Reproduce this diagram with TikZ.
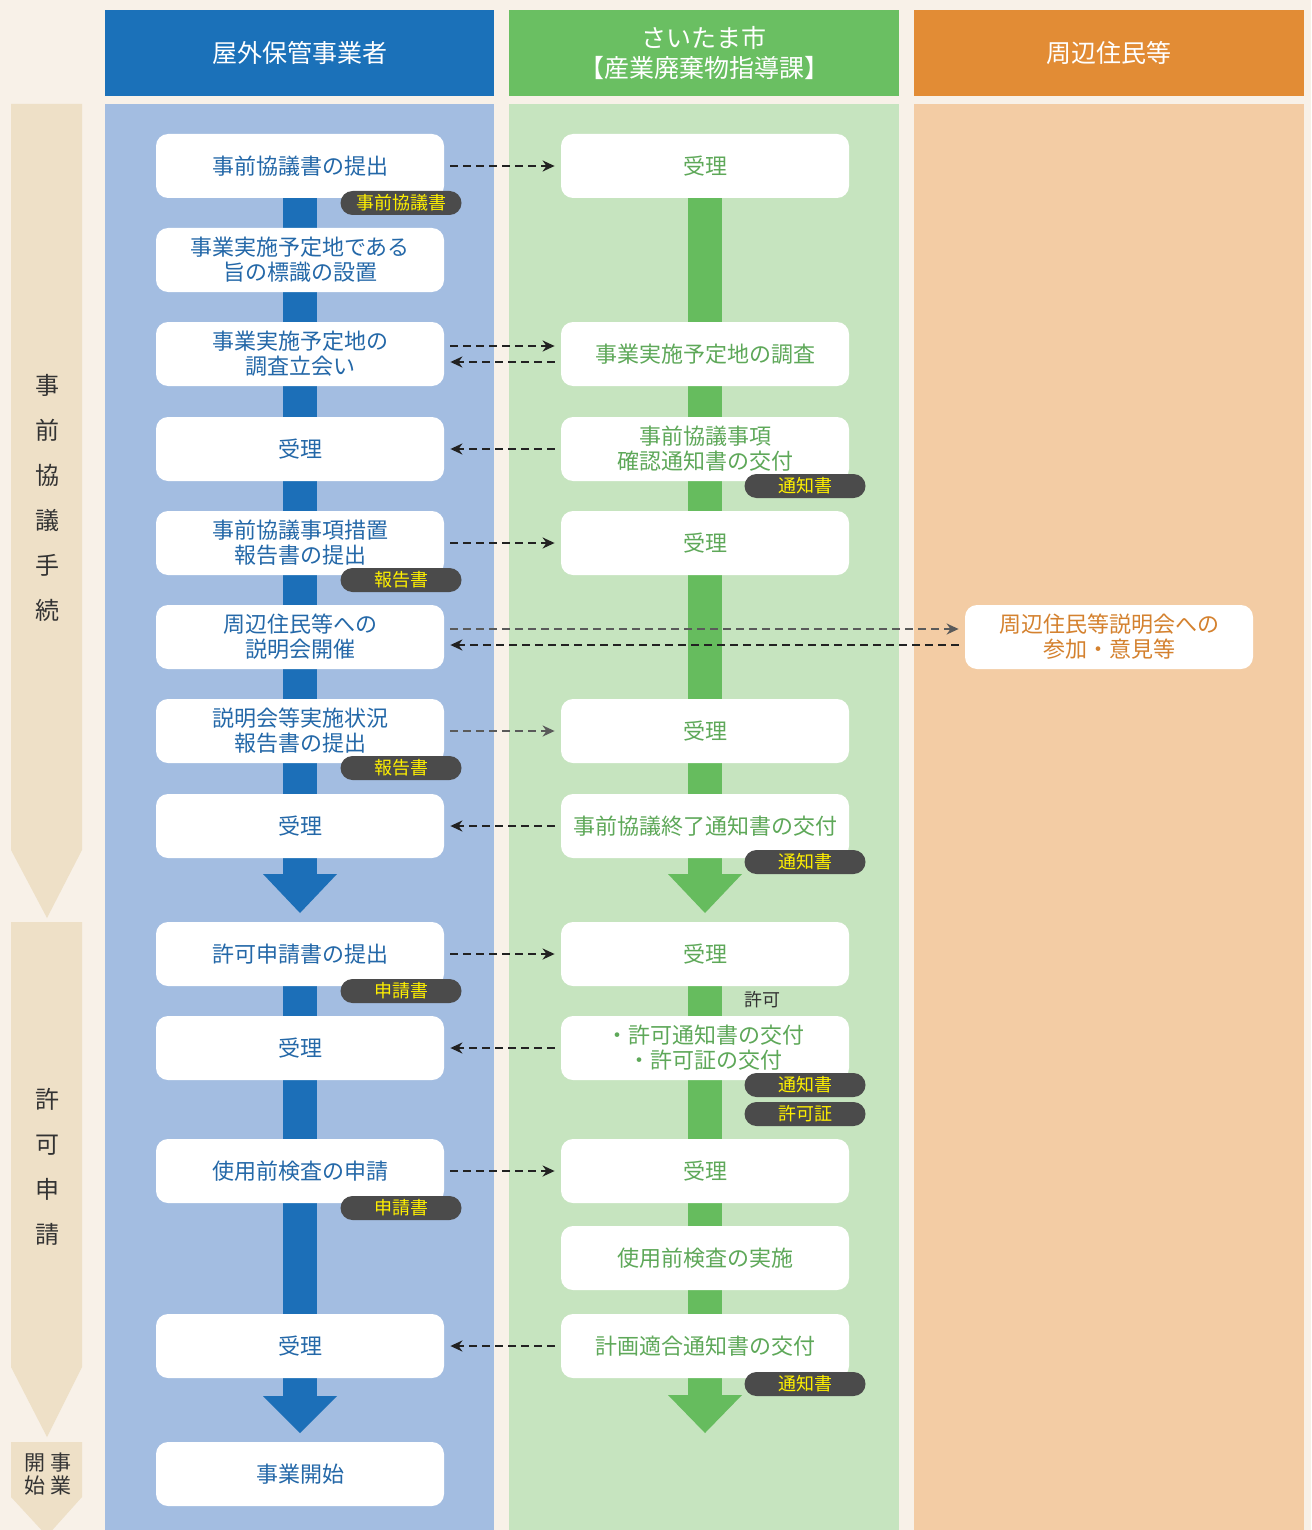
\documentclass[tikz,border=0pt]{standalone}
\usepackage{fontspec}
\setmainfont{Noto Sans CJK JP}
\usetikzlibrary{arrows.meta}
\definecolor{bgc}{HTML}{F8F1E8}
\definecolor{hblue}{HTML}{1B71B9}
\definecolor{lblue}{HTML}{A3BDE1}
\definecolor{hgreen}{HTML}{6ABF62}
\definecolor{lgreen}{HTML}{C6E4BF}
\definecolor{horange}{HTML}{E28C35}
\definecolor{lorange}{HTML}{F3CCA4}
\definecolor{phasec}{HTML}{EEE0C7}
\definecolor{barblue}{HTML}{1C6FB8}
\definecolor{bargreen}{HTML}{66BC5E}
\definecolor{bluetxt}{HTML}{2468A8}
\definecolor{greentxt}{HTML}{5EA859}
\definecolor{orangetxt}{HTML}{D4812E}
\definecolor{badgec}{HTML}{4B4B4B}
\definecolor{badgetxt}{HTML}{FFF000}
\definecolor{arrowc}{HTML}{222222}
\definecolor{arrowg}{HTML}{5A5A5A}
\definecolor{phasetxt}{HTML}{333333}
\begin{document}
\begin{tikzpicture}[x=0.5pt,y=-0.5pt,
  boxbase/.style={fill=white, rounded corners=6pt, minimum width=144pt, minimum height=32pt,
    align=center, inner sep=0pt, font=\fontsize{11pt}{12.5pt}\selectfont},
  bbox/.style={boxbase, text=bluetxt},
  gbox/.style={boxbase, text=greentxt},
  obox/.style={boxbase, text=orangetxt},
  badge/.style={fill=badgec, rounded corners=6pt, minimum width=60.5pt, minimum height=12pt,
    inner sep=0pt, text=badgetxt, font=\fontsize{9pt}{10pt}\selectfont},
  hdr/.style={text=white, align=center, font=\fontsize{12.5pt}{15pt}\selectfont},
  darr/.style={draw=arrowc, line width=1pt, dash pattern=on 4pt off 2.5pt,
    -{Stealth[length=6pt,width=5.5pt]}},
  garr/.style={darr, draw=arrowg},
  phaselbl/.style={text=phasetxt, align=center, font=\fontsize{12pt}{22.5pt}\selectfont},
]
% background
\fill[bgc] (0,0) rectangle (1311,1530);
\useasboundingbox (0,0) rectangle (1311,1530);
% headers
\fill[hblue] (105,10) rectangle (494,96);
\fill[hgreen] (509,10) rectangle (899,96);
\fill[horange] (914,10) rectangle (1304,96);
\node[hdr] (h1) at (300,53) {屋外保管事業者};
\node[hdr] (h2) at (704,53) {さいたま市\\【産業廃棄物指導課】};
\node[hdr] (h3) at (1109,53) {周辺住民等};
% lanes
\fill[lblue] (105,104) rectangle (494,1530);
\fill[lgreen] (509,104) rectangle (899,1530);
\fill[lorange] (914,104) rectangle (1304,1530);
% phase bars
\fill[phasec] (11,104) -- (82,104) -- (82,850) -- (47,918) -- (11,850) -- cycle;
\fill[phasec] (11,922) -- (82,922) -- (82,1367) -- (47,1437) -- (11,1367) -- cycle;
\fill[phasec] (11,1442) -- (82,1442) -- (82,1497) -- (47,1536) -- (11,1497) -- cycle;
\node[phaselbl] (p1) at (47,498) {事\\前\\協\\議\\手\\続};
\node[phaselbl] (p2) at (47,1167) {許\\可\\申\\請};
\node[phaselbl, font=\fontsize{10.5pt}{11.5pt}\selectfont] (p3a) at (61,1474) {事\\業};
\node[phaselbl, font=\fontsize{10.5pt}{11.5pt}\selectfont] (p3b) at (35,1474) {開\\始};
% vertical flow bars
\fill[barblue] (283,197) rectangle (317,875);
\fill[barblue] (263,874) -- (337,874) -- (300,913) -- cycle;
\fill[barblue] (283,985) rectangle (317,1397);
\fill[barblue] (263,1396) -- (337,1396) -- (300,1433) -- cycle;
\fill[bargreen] (688,197) rectangle (722,875);
\fill[bargreen] (668,874) -- (742,874) -- (705,913) -- cycle;
\fill[bargreen] (688,985) rectangle (722,1396);
\fill[bargreen] (668,1395) -- (742,1395) -- (705,1433) -- cycle;
% blue lane boxes
\node[bbox] (b1) at (300,166) {事前協議書の提出};
\node[bbox] (b2) at (300,260) {事業実施予定地である\\旨の標識の設置};
\node[bbox] (b3) at (300,354) {事業実施予定地の\\調査立会い};
\node[bbox] (b4) at (300,449) {受理};
\node[bbox] (b5) at (300,543) {事前協議事項措置\\報告書の提出};
\node[bbox] (b6) at (300,637) {周辺住民等への\\説明会開催};
\node[bbox] (b7) at (300,731) {説明会等実施状況\\報告書の提出};
\node[bbox] (b8) at (300,826) {受理};
\node[bbox] (b9) at (300,954) {許可申請書の提出};
\node[bbox] (b10) at (300,1048) {受理};
\node[bbox] (b11) at (300,1171) {使用前検査の申請};
\node[bbox] (b12) at (300,1346) {受理};
\node[bbox] (b13) at (300,1474) {事業開始};
% green lane boxes
\node[gbox] (g1) at (705,166) {受理};
\node[gbox] (g2) at (705,354) {事業実施予定地の調査};
\node[gbox] (g3) at (705,449) {事前協議事項\\確認通知書の交付};
\node[gbox] (g4) at (705,543) {受理};
\node[gbox] (g5) at (705,731) {受理};
\node[gbox] (g6) at (705,826) {事前協議終了通知書の交付};
\node[gbox] (g7) at (705,954) {受理};
\node[gbox] (g8) at (705,1048) {・許可通知書の交付\\・許可証の交付};
\node[gbox] (g9) at (705,1171) {受理};
\node[gbox] (g10) at (705,1258) {使用前検査の実施};
\node[gbox] (g11) at (705,1346) {計画適合通知書の交付};
% orange lane box
\node[obox] (o1) at (1109,637) {周辺住民等説明会への\\参加・意見等};
% badges
\node[badge] (k1) at (401,203) {事前協議書};
\node[badge] (k2) at (401,580) {報告書};
\node[badge] (k3) at (401,768) {報告書};
\node[badge] (k4) at (401,991) {申請書};
\node[badge] (k5) at (401,1208) {申請書};
\node[badge] (k6) at (805,486) {通知書};
\node[badge] (k7) at (805,862) {通知書};
\node[badge] (k8) at (805,1085) {通知書};
\node[badge] (k9) at (805,1114) {許可証};
\node[badge] (k10) at (805,1384) {通知書};
\node[text=phasetxt, font=\fontsize{9pt}{10pt}\selectfont] (lk) at (762,1000) {許可};
% dashed connectors
\draw[darr] ([xshift=3pt]b1.east) -- ([xshift=-3pt]g1.west);
\draw[darr] ([xshift=3pt,yshift=4pt]b3.east) -- ([xshift=-3pt,yshift=4pt]g2.west);
\draw[darr] ([xshift=-3pt,yshift=-4pt]g2.west) -- ([xshift=3pt,yshift=-4pt]b3.east);
\draw[darr] ([xshift=-3pt]g3.west) -- ([xshift=3pt]b4.east);
\draw[darr] ([xshift=3pt]b5.east) -- ([xshift=-3pt]g4.west);
\draw[garr] ([xshift=3pt,yshift=4pt]b6.east) -- ([xshift=-3pt,yshift=4pt]o1.west);
\draw[darr] ([xshift=-3pt,yshift=-4pt]o1.west) -- ([xshift=3pt,yshift=-4pt]b6.east);
\draw[garr] ([xshift=3pt]b7.east) -- ([xshift=-3pt]g5.west);
\draw[darr] ([xshift=-3pt]g6.west) -- ([xshift=3pt]b8.east);
\draw[darr] ([xshift=3pt]b9.east) -- ([xshift=-3pt]g7.west);
\draw[darr] ([xshift=-3pt]g8.west) -- ([xshift=3pt]b10.east);
\draw[darr] ([xshift=3pt]b11.east) -- ([xshift=-3pt]g9.west);
\draw[darr] ([xshift=-3pt]g11.west) -- ([xshift=3pt]b12.east);
\end{tikzpicture}
\end{document}
